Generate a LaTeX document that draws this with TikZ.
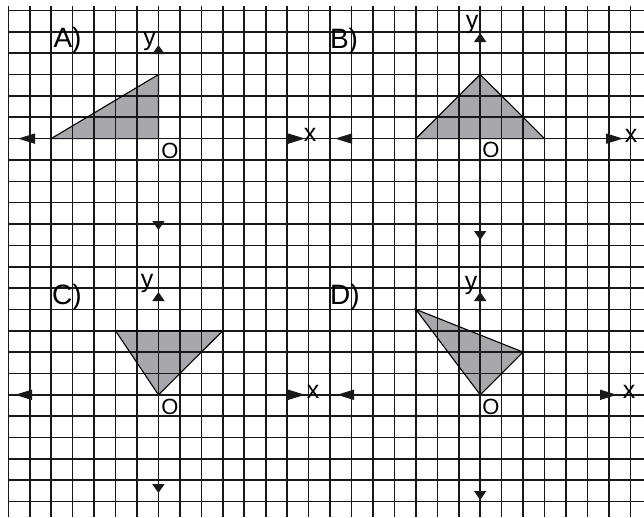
\documentclass[tikz,border=0pt]{standalone}
\usepackage{fontspec}
\setmainfont{Liberation Sans}
\usetikzlibrary{arrows.meta}
\definecolor{shadegray}{RGB}{168,168,172}
\definecolor{gridink}{RGB}{25,25,25}
\begin{document}
\begin{tikzpicture}[x=1pt,y=-1pt,
  gridline/.style={line width=1.6pt, draw=gridink},
  shapefill/.style={fill=shadegray},
  outline/.style={draw=black, line width=1.1pt, line join=miter},
  haxis/.style={draw=gridink, line width=1.6pt, {Triangle[length=17pt,width=10pt]}-{Triangle[length=17pt,width=10pt]}},
  vaxis/.style={draw=gridink, line width=1.6pt, {Triangle[length=9pt,width=12pt]}-{Triangle[length=9pt,width=12pt]}},
  panel/.style={inner sep=0pt, font=\fontsize{28}{28}\selectfont},
  axlbl/.style={inner sep=0pt, font=\fontsize{25}{25}\selectfont},
  olbl/.style={inner sep=0pt, font=\fontsize{22}{22}\selectfont}]
\useasboundingbox (0,0) rectangle (644,517);
\fill[white] (0,0) rectangle (644,517);

% origins
\coordinate (OA) at (158.45,138.6);
\coordinate (OB) at (480.2,138.6);
\coordinate (OC) at (158.45,394.8);
\coordinate (OD) at (480.2,394.8);

% triangle vertices
\coordinate (A1) at (51.2,138.6);
\coordinate (A2) at (158.45,74.55);
\coordinate (B1) at (415.85,138.6);
\coordinate (B2) at (480.2,74.55);
\coordinate (B3) at (544.55,138.6);
\coordinate (C1) at (115.55,330.75);
\coordinate (C2) at (222.8,330.75);
\coordinate (D1) at (415.85,309.4);
\coordinate (D2) at (523.1,352.1);

% fills (under grid)
\fill[shapefill] (A1) -- (OA) -- (A2) -- cycle;
\fill[shapefill] (B1) -- (B2) -- (B3) -- cycle;
\fill[shapefill] (C1) -- (OC) -- (C2) -- cycle;
\fill[shapefill] (D1) -- (D2) -- (OD) -- cycle;

% grid
\foreach \k in {0,...,29}
  \draw[gridline] ({8.3+21.45*\k},6) -- ({8.3+21.45*\k},517);
\foreach \j in {0,...,23}
  \draw[gridline] (7.5,{10.5+21.35*\j}) -- (644,{10.5+21.35*\j});

% outlines
\draw[outline] (A1) -- (OA) -- (A2) -- cycle;
\draw[outline] (B1) -- (B2) -- (B3) -- cycle;
\draw[outline] (C1) -- (OC) -- (C2) -- cycle;
\draw[outline] (D1) -- (D2) -- (OD) -- cycle;

% axes
\coordinate (AxL) at (18,138.6);  \coordinate (AxR) at (305,138.6);
\coordinate (AyT) at (158.45,45); \coordinate (AyB) at (158.45,230);
\coordinate (BxL) at (335,138.6); \coordinate (BxR) at (623,138.6);
\coordinate (ByT) at (480.2,33);  \coordinate (ByB) at (480.2,240);
\coordinate (CxL) at (15,394.8);  \coordinate (CxR) at (305,394.8);
\coordinate (CyT) at (158.45,292);\coordinate (CyB) at (158.45,493);
\coordinate (DxL) at (337,394.8); \coordinate (DxR) at (617,394.8);
\coordinate (DyT) at (480.2,292); \coordinate (DyB) at (480.2,500);
\draw[haxis] (AxL) -- (AxR);
\draw[vaxis] (AyB) -- (AyT);
\draw[haxis] (BxL) -- (BxR);
\draw[vaxis] (ByB) -- (ByT);
\draw[haxis] (CxL) -- (CxR);
\draw[vaxis] (CyB) -- (CyT);
\draw[haxis] (DxL) -- (DxR);
\draw[vaxis] (DyB) -- (DyT);

% labels
\node[panel] (labA) at (67.5,40) {A)};
\node[panel] (labB) at (344,41) {B)};
\node[panel] (labC) at (67,297) {C)};
\node[panel] (labD) at (345,297) {D)};
\node[axlbl] (yA) at (149.5,41) {y};
\node[axlbl] (yB) at (472,24) {y};
\node[axlbl] (yC) at (147,283) {y};
\node[axlbl] (yD) at (471,285) {y};
\node[axlbl] (xA) at (310,135) {x};
\node[axlbl] (xB) at (631,136) {x};
\node[axlbl] (xC) at (313,392) {x};
\node[axlbl] (xD) at (629,392) {x};
\node[olbl] (oA) at (170,151) {O};
\node[olbl] (oB) at (491,150) {O};
\node[olbl] (oC) at (170,407) {O};
\node[olbl] (oD) at (491,407) {O};
\end{tikzpicture}
\end{document}
